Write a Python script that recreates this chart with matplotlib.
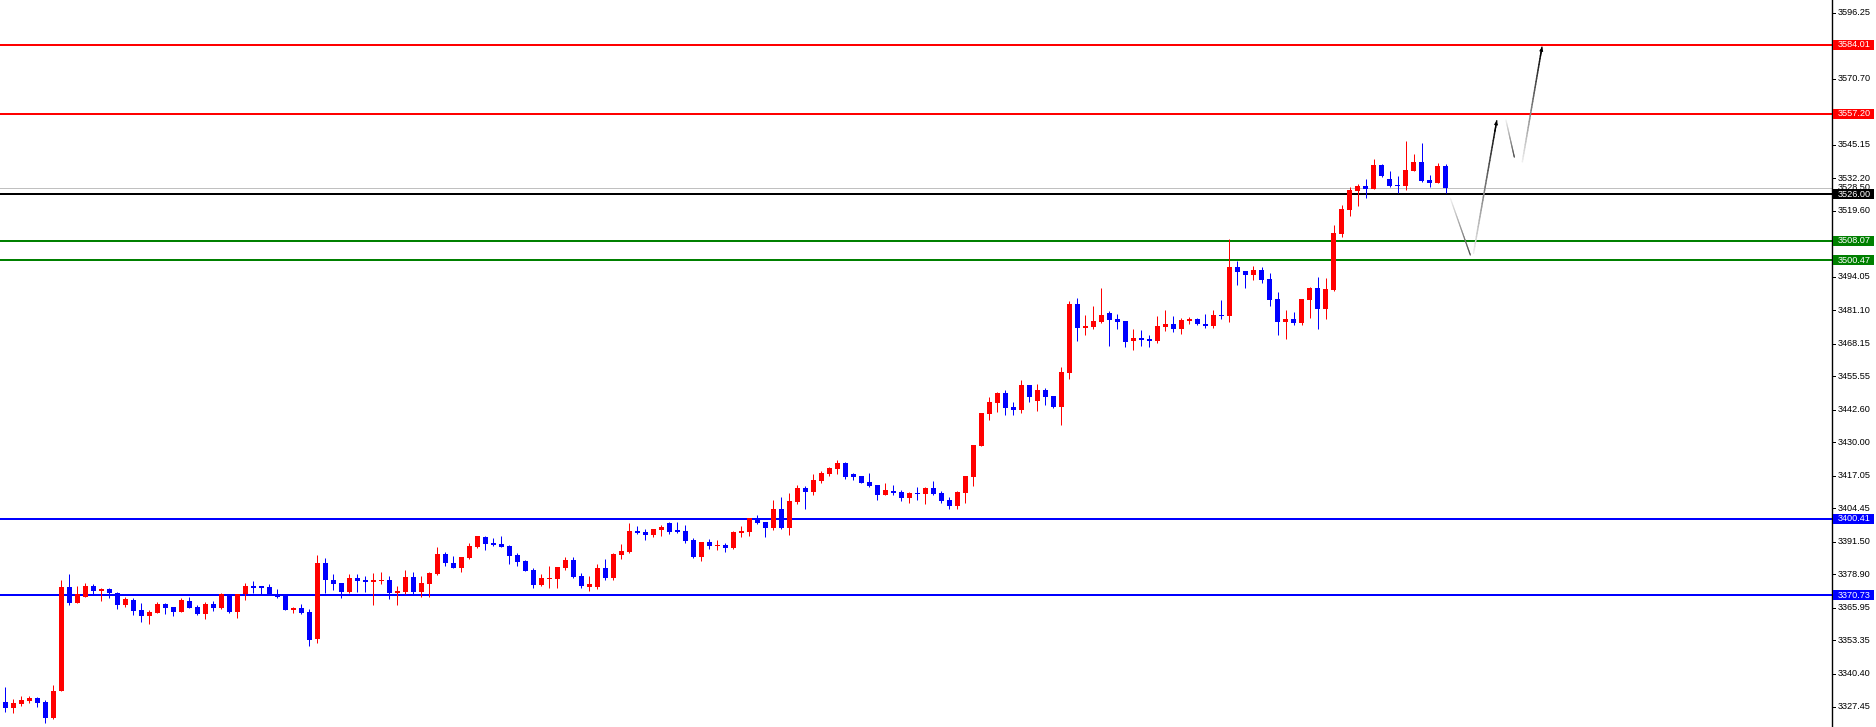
import matplotlib
matplotlib.use("Agg")
import matplotlib.pyplot as plt
import numpy as np
from matplotlib.collections import LineCollection
from matplotlib.patches import Rectangle
import matplotlib.transforms as mtrans

plt.rcParams['font.family'] = ['Liberation Sans', 'DejaVu Sans']

# ---------------- data (OHLC per bar) ----------------
opens = [3329.38, 3327.19, 3328.61, 3329.77, 3330.93, 3329.38, 3323.32, 3333.77, 3373.93, 3367.86,
         3370.18, 3374.31, 3372.51, 3373.15, 3371.60, 3367.08, 3368.89, 3365.02, 3362.82, 3363.98,
         3367.34, 3366.18, 3364.37, 3368.50, 3366.18, 3363.60, 3367.34, 3365.92, 3371.21, 3364.37,
         3371.21, 3374.31, 3374.31, 3373.93, 3370.83, 3370.83, 3365.15, 3365.92, 3364.24, 3353.80,
         3383.35, 3376.63, 3375.47, 3371.99, 3377.41, 3376.63, 3375.86, 3376.25, 3376.63, 3371.73,
         3371.99, 3377.80, 3371.99, 3375.08, 3378.96, 3386.70, 3383.22, 3381.28, 3385.28, 3389.54,
         3393.29, 3391.09, 3390.71, 3389.80, 3386.32, 3383.99, 3380.51, 3374.70, 3377.02, 3377.02,
         3381.28, 3384.38, 3378.18, 3373.80, 3374.00, 3381.28, 3377.41, 3386.32, 3387.48, 3395.61,
         3395.23, 3394.06, 3396.00, 3398.71, 3396.00, 3395.61, 3392.13, 3385.54, 3391.35, 3389.80,
         3390.19, 3389.03, 3394.84, 3395.23, 3400.65, 3399.10, 3396.77, 3404.13, 3396.77, 3406.85,
         3412.27, 3410.72, 3414.98, 3417.69, 3419.63, 3421.95, 3417.69, 3416.91, 3414.59, 3413.43,
         3409.68, 3411.10, 3410.72, 3408.39, 3410.33, 3410.07, 3412.27, 3410.33, 3407.62, 3405.42,
         3410.46, 3416.66, 3428.66, 3441.06, 3445.32, 3449.06, 3443.64, 3442.61, 3452.16, 3446.09,
         3450.22, 3447.90, 3443.77, 3456.94, 3483.53, 3474.37, 3474.75, 3476.69, 3480.05, 3477.72,
         3476.95, 3469.33, 3470.37, 3469.98, 3469.33, 3474.63, 3475.79, 3473.85, 3476.95, 3477.72,
         3475.79, 3475.01, 3479.27, 3478.89, 3497.87, 3496.32, 3494.77, 3496.70, 3493.22, 3485.47,
         3476.56, 3477.72, 3476.18, 3485.08, 3489.73, 3481.60, 3488.96, 3510.77, 3520.07, 3527.43,
         3529.24, 3528.20, 3537.37, 3531.95, 3529.62, 3529.37, 3535.18, 3538.53, 3531.56, 3530.53,
         3536.98]
highs = [3335.32, 3330.54, 3331.83, 3331.83, 3331.32, 3330.03, 3335.97, 3376.64, 3378.96, 3374.31,
         3375.47, 3375.09, 3373.54, 3373.54, 3371.99, 3370.18, 3369.67, 3367.73, 3365.02, 3368.12,
         3367.73, 3366.18, 3369.67, 3370.18, 3366.95, 3368.12, 3368.50, 3371.60, 3371.21, 3371.21,
         3375.47, 3376.25, 3374.31, 3375.09, 3373.15, 3370.83, 3366.31, 3367.21, 3365.53, 3386.45,
         3385.03, 3378.96, 3375.47, 3378.96, 3378.96, 3378.18, 3379.35, 3379.73, 3378.18, 3374.31,
         3380.51, 3379.73, 3378.18, 3379.73, 3389.54, 3387.48, 3385.93, 3385.54, 3391.09, 3393.81,
         3393.68, 3392.90, 3393.68, 3390.06, 3387.09, 3384.38, 3381.28, 3378.96, 3382.06, 3381.67,
         3385.54, 3385.54, 3379.35, 3378.18, 3382.83, 3384.77, 3387.09, 3390.58, 3398.71, 3397.55,
         3396.39, 3396.39, 3397.94, 3399.10, 3399.10, 3397.94, 3392.90, 3391.35, 3392.51, 3392.13,
         3390.97, 3395.61, 3397.55, 3400.65, 3401.81, 3399.10, 3407.62, 3408.78, 3410.33, 3413.43,
         3413.04, 3417.69, 3418.85, 3420.40, 3423.11, 3422.34, 3418.20, 3416.91, 3418.08, 3413.43,
         3414.20, 3413.43, 3411.49, 3410.72, 3412.65, 3412.65, 3414.98, 3411.10, 3408.78, 3411.10,
         3416.91, 3428.92, 3441.32, 3447.51, 3449.45, 3450.22, 3445.58, 3454.10, 3452.16, 3452.55,
         3451.00, 3447.90, 3459.13, 3484.70, 3485.86, 3479.27, 3482.76, 3489.73, 3480.95, 3479.66,
         3476.95, 3473.85, 3473.46, 3471.53, 3478.89, 3481.21, 3478.89, 3478.11, 3478.50, 3478.11,
         3479.66, 3481.21, 3485.08, 3508.71, 3500.19, 3496.32, 3498.25, 3497.87, 3495.54, 3488.18,
         3481.21, 3480.44, 3485.47, 3490.12, 3493.99, 3493.60, 3514.13, 3521.88, 3528.85, 3530.01,
         3531.95, 3539.69, 3537.76, 3535.05, 3533.11, 3546.67, 3541.63, 3545.89, 3533.50, 3538.14,
         3537.76]
lows = [3325.64, 3325.25, 3327.96, 3328.87, 3327.58, 3321.38, 3322.80, 3333.77, 3367.08, 3367.86,
        3370.18, 3371.21, 3368.63, 3369.80, 3365.53, 3366.31, 3363.21, 3360.50, 3359.72, 3363.98,
        3363.60, 3362.82, 3364.37, 3365.92, 3363.21, 3361.66, 3364.76, 3365.53, 3363.98, 3362.05,
        3368.89, 3371.60, 3371.21, 3370.83, 3369.80, 3365.15, 3363.98, 3363.46, 3351.07, 3352.23,
        3371.73, 3372.76, 3369.66, 3371.73, 3371.99, 3371.99, 3367.08, 3375.08, 3369.40, 3367.08,
        3371.21, 3371.21, 3370.18, 3370.18, 3378.57, 3382.06, 3381.28, 3379.86, 3384.90, 3389.16,
        3388.25, 3389.93, 3389.54, 3382.83, 3382.06, 3380.12, 3373.54, 3374.31, 3373.54, 3373.54,
        3380.51, 3377.54, 3373.50, 3372.50, 3373.20, 3376.63, 3376.63, 3384.77, 3387.09, 3394.45,
        3392.13, 3393.29, 3393.68, 3394.45, 3394.84, 3390.97, 3385.16, 3384.00, 3388.64, 3388.25,
        3387.48, 3388.64, 3393.29, 3393.68, 3398.32, 3393.29, 3396.00, 3396.39, 3394.06, 3406.07,
        3404.13, 3409.56, 3414.20, 3416.92, 3417.69, 3415.88, 3415.36, 3414.33, 3412.78, 3407.62,
        3409.68, 3409.68, 3407.36, 3406.45, 3407.62, 3406.20, 3409.68, 3406.45, 3404.26, 3404.26,
        3406.58, 3413.17, 3428.66, 3438.60, 3441.70, 3440.54, 3440.54, 3441.45, 3445.58, 3442.22,
        3444.41, 3443.38, 3436.80, 3454.61, 3469.33, 3471.66, 3473.98, 3476.30, 3467.27, 3473.85,
        3466.88, 3465.72, 3467.27, 3466.88, 3468.43, 3473.08, 3472.69, 3471.91, 3475.79, 3475.40,
        3474.24, 3474.24, 3477.72, 3476.56, 3490.89, 3489.73, 3492.83, 3491.67, 3482.76, 3471.53,
        3469.98, 3475.40, 3475.40, 3478.11, 3473.85, 3477.72, 3488.57, 3509.35, 3517.75, 3521.62,
        3524.72, 3528.20, 3532.85, 3528.98, 3526.65, 3527.82, 3535.18, 3530.91, 3528.98, 3530.53,
        3526.65]
closes = [3327.19, 3329.00, 3330.16, 3330.93, 3329.13, 3323.32, 3333.64, 3373.93, 3367.86, 3371.08,
          3374.31, 3372.51, 3373.15, 3371.73, 3367.08, 3369.28, 3364.76, 3362.82, 3364.24, 3367.34,
          3365.92, 3364.37, 3368.89, 3365.92, 3363.60, 3367.34, 3365.92, 3371.21, 3364.37, 3371.21,
          3374.31, 3373.54, 3373.54, 3370.83, 3370.18, 3365.15, 3365.79, 3363.98, 3353.40, 3383.35,
          3376.63, 3375.08, 3371.99, 3377.41, 3376.38, 3375.86, 3376.63, 3376.63, 3371.73, 3372.37,
          3377.80, 3371.99, 3375.47, 3379.35, 3386.70, 3383.09, 3381.28, 3385.54, 3389.80, 3393.81,
          3390.71, 3390.32, 3389.54, 3386.06, 3383.61, 3380.12, 3374.70, 3377.41, 3377.41, 3381.67,
          3384.38, 3377.92, 3374.30, 3375.00, 3381.28, 3377.41, 3386.70, 3387.87, 3395.61, 3394.84,
          3394.06, 3396.39, 3397.16, 3395.23, 3395.23, 3391.74, 3385.54, 3391.35, 3389.80, 3390.19,
          3389.03, 3395.23, 3395.61, 3400.65, 3398.71, 3396.77, 3404.13, 3396.77, 3407.23, 3412.27,
          3410.72, 3415.37, 3418.08, 3420.01, 3421.95, 3416.66, 3416.53, 3414.33, 3413.17, 3409.68,
          3411.49, 3410.46, 3408.39, 3410.33, 3410.07, 3412.27, 3410.07, 3407.36, 3405.42, 3410.72,
          3416.91, 3428.92, 3441.32, 3445.58, 3449.06, 3443.38, 3442.61, 3452.16, 3447.64, 3450.22,
          3447.64, 3443.77, 3457.20, 3483.53, 3474.37, 3475.01, 3476.95, 3479.27, 3477.47, 3476.69,
          3468.82, 3470.37, 3469.72, 3469.33, 3475.01, 3475.79, 3473.85, 3477.34, 3477.72, 3475.79,
          3475.01, 3479.27, 3478.89, 3497.87, 3495.93, 3494.77, 3496.70, 3492.83, 3485.08, 3476.56,
          3477.72, 3476.18, 3485.47, 3489.73, 3481.60, 3489.34, 3511.03, 3520.33, 3527.69, 3529.24,
          3528.20, 3537.37, 3533.24, 3529.37, 3529.37, 3535.43, 3538.53, 3531.30, 3530.53, 3536.98,
          3528.50]

# horizontal levels
resistance_levels = [3584.01, 3557.20]
support_green = [3508.07, 3500.47]
support_blue = [3400.41, 3370.73]
pivot_level = 3526.00
bid_level = 3528.50

# right-axis tick labels
tick_values = [3596.25, 3570.70, 3545.15, 3532.20, 3519.60, 3506.85, 3494.05, 3481.10,
               3468.15, 3455.55, 3442.60, 3430.00, 3417.05, 3404.45, 3391.50, 3378.90,
               3365.95, 3353.35, 3340.40, 3327.45]

# forecast path (bar index, price)
fc_x = [180.6, 183.1, 183.5, 186.4, 187.55, 188.6, 189.6, 192.05]
fc_y = [3524.5, 3502.5, 3503.2, 3554.5, 3554.8, 3540.4, 3538.6, 3583.0]

# ---------------- figure ----------------
W, H = 1876, 727
fig = plt.figure(figsize=(W / 100, H / 100), dpi=100)
axw = 1832 / W
ax = fig.add_axes([0, 0, axw, 1])
ax.set_xlim(-0.66, 228.3)
ax.set_ylim(3319.70, 3601.28)
for s in ['top', 'left', 'bottom']:
    ax.spines[s].set_visible(False)
ax.spines['right'].set_color('black')
ax.spines['right'].set_linewidth(1.0)
ax.set_xticks([])
ax.set_yticks([])

px = 0.72  # 1 pixel in points

# horizontal lines
for lv in resistance_levels:
    ax.axhline(lv, color='#ff0000', lw=2 * px, zorder=1)
for lv in support_green:
    ax.axhline(lv, color='#008000', lw=2 * px, zorder=1)
for lv in support_blue:
    ax.axhline(lv, color='#0000ff', lw=2 * px, zorder=1)
ax.axhline(bid_level, color='#c0c0c0', lw=1 * px, zorder=1)
ax.axhline(pivot_level, color='black', lw=2 * px, zorder=1)

# candles
o = np.array(opens); h = np.array(highs); l = np.array(lows); c = np.array(closes)
x = np.arange(len(o))
up = c >= o
cols = np.where(up, '#ff0000', '#0000ff')
ax.vlines(x, l, h, colors=cols, lw=1 * px, zorder=3)
bottoms = np.minimum(o, c)
heights = np.maximum(np.abs(c - o), 0.4)
ax.bar(x, heights, bottom=bottoms, width=0.62, color=cols, linewidth=0, zorder=4)

# forecast gradient lines
def grad_line(x0, y0, x1, y1, c0, c1, lw):
    n = 40
    xs = np.linspace(x0, x1, n + 1)
    ys = np.linspace(y0, y1, n + 1)
    segs = [[(xs[i], ys[i]), (xs[i + 1], ys[i + 1])] for i in range(n)]
    t = np.linspace(0, 1, n)[:, None]
    colors = (1 - t) * np.array(c0) + t * np.array(c1)
    lc = LineCollection(segs, colors=colors, linewidths=lw, zorder=5, capstyle='round')
    ax.add_collection(lc)

for i in range(0, len(fc_x), 2):
    x0, y0, x1, y1 = fc_x[i], fc_y[i], fc_x[i + 1], fc_y[i + 1]
    if y1 > y0:
        grad_line(x0, y0, x1, y1, (0.93, 0.93, 0.93), (0.0, 0.0, 0.0), 1.5 * px)
        ax.annotate('', xy=(x1, y1), xytext=(x1 - (x1 - x0) * 0.08, y1 - (y1 - y0) * 0.08),
                    arrowprops=dict(arrowstyle='-|>', color='black', lw=0.8,
                                    mutation_scale=5, shrinkA=0, shrinkB=0), zorder=6)
    else:
        grad_line(x0, y0, x1, y1, (0.95, 0.95, 0.95), (0.3, 0.3, 0.3), 1.2 * px)

# right axis ticks/labels
tr = mtrans.blended_transform_factory(fig.transFigure, ax.transData)
fs = 6.6
x_axis = 1832 / W
for tv in tick_values:
    ax.plot([x_axis, x_axis + 3 / W], [tv, tv], color='black', lw=1 * px, transform=tr,
            clip_on=False, zorder=7)
    ax.text(1838 / W, tv, f"{tv:.2f}", transform=tr, fontsize=fs, color='black',
            va='center', ha='left', clip_on=False, zorder=7)

# bid price label (mostly hidden behind the pivot label)
ax.text(1838 / W, bid_level, f"{bid_level:.2f}", transform=tr, fontsize=fs, color='black',
        va='center', ha='left', clip_on=False, zorder=7)

unit = (3601.28 - 3319.70) / H  # price per pixel
def level_label(v, fc):
    ax.add_patch(Rectangle((1833 / W, v - 5 * unit), 41 / W, 10 * unit, transform=tr,
                           facecolor=fc, edgecolor='none', clip_on=False, zorder=8))
    ax.text(1838 / W, v, f"{v:.2f}", transform=tr, fontsize=fs, color='white',
            va='center', ha='left', clip_on=False, zorder=9)

for lv in resistance_levels:
    level_label(lv, '#ff0000')
for lv in support_green:
    level_label(lv, '#008000')
for lv in support_blue:
    level_label(lv, '#0000ff')
level_label(pivot_level, 'black')

fig.savefig('out.png', dpi=100, facecolor='white')
